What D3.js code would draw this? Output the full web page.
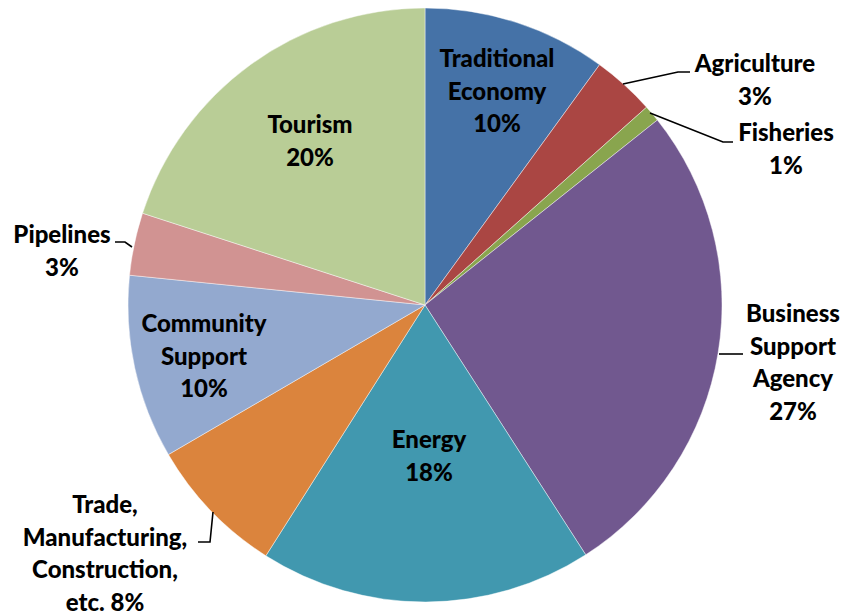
<!DOCTYPE html>
<html>
<head>
<meta charset="utf-8">
<script src="https://cdn.jsdelivr.net/npm/d3@7"></script>
<style>
  html, body { margin: 0; padding: 0; background: #fff; }
  svg text { font-family: Lato, "Open Sans", sans-serif; font-weight: 900; fill: #000; }
</style>
</head>
<body>
<svg id="chart" width="852" height="614"></svg>
<script>
// Funding share by sector (percent of total), clockwise from 12 o'clock
const categories = [
  ["Traditional", "Economy"],
  ["Agriculture"],
  ["Fisheries"],
  ["Business", "Support", "Agency"],
  ["Energy"],
  ["Trade,", "Manufacturing,", "Construction,", "etc."],
  ["Community", "Support"],
  ["Pipelines"],
  ["Tourism"]
];
const values = [10.0, 3.4, 0.9, 26.6, 18.1, 7.6, 10.0, 3.4, 20.0];
const colors = ["#4572A7", "#AA4643", "#89A54E", "#71588F", "#4198AF",
                "#DB843D", "#93A9CF", "#D19392", "#B9CD96"];

// Label anchor (centre x, first baseline y); "inline" puts the % on the last line
const labelLayout = [
  { x: 497, y: 67 },
  { x: 755, y: 72 },
  { x: 786, y: 141 },
  { x: 793, y: 322 },
  { x: 429, y: 448 },
  { x: 105, y: 513, inline: true },
  { x: 204, y: 332 },
  { x: 62, y: 243 },
  { x: 310, y: 133 }
];
// Leader lines for labels placed beside the pie edge
const leaders = [
  { i: 1, pts: [[623, 84], [678, 72], [690, 72]] },
  { i: 2, pts: [[650, 113], [723, 142], [733, 142]] },
  { i: 3, pts: [[719, 354], [743, 354]] },
  { i: 7, pts: [[115, 242], [125, 242], [132, 247]] },
  { i: 5, pts: [[198, 542], [210, 542], [213, 512]] }
];

const cx = 425, cy = 305, r = 297;
const lineH = 32.5;

const svg = d3.select("#chart");
const g = svg.append("g").attr("transform", `translate(${cx},${cy})`);

const total = d3.sum(values);
const pie = d3.pie().sort(null).value(d => d)(values);
const arc = d3.arc().innerRadius(0).outerRadius(r);

g.selectAll("path.slice")
  .data(pie)
  .join("path")
  .attr("class", "slice")
  .attr("d", arc)
  .attr("fill", (d, i) => colors[i])
  .attr("stroke", "#fff")
  .attr("stroke-opacity", 0.55)
  .attr("stroke-width", 0.8);

const pct = v => d3.format(".0f")(v / total * 100) + "%";

svg.append("g").selectAll("path.leader")
  .data(leaders)
  .join("path")
  .attr("class", "leader")
  .attr("d", d => d3.line()(d.pts))
  .attr("fill", "none")
  .attr("stroke", "#000")
  .attr("stroke-width", 1.6);

const labels = svg.append("g").selectAll("text")
  .data(pie)
  .join("text")
  .attr("text-anchor", "middle")
  .attr("font-size", 24);

labels.each(function (d, i) {
  const t = d3.select(this);
  const lay = labelLayout[i];
  const lines = categories[i].slice();
  if (lay.inline) lines[lines.length - 1] += " " + pct(d.value);
  else lines.push(pct(d.value));
  lines.forEach((s, k) => {
    t.append("tspan").attr("x", lay.x).attr("y", lay.y + k * lineH).text(s);
  });
});
</script>
</body>
</html>
